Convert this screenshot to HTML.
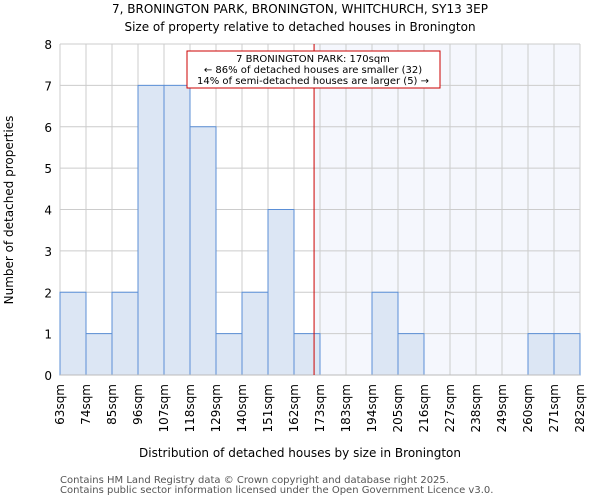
<!DOCTYPE html>
<html><head><meta charset="utf-8"><style>
body{margin:0;background:#fff;font-family:"DejaVu Sans","Liberation Sans",sans-serif;}
</style></head><body>
<svg id="chart" width="600" height="500" viewBox="0 0 600 500" font-family="DejaVu Sans, Liberation Sans, sans-serif">
<text x="300" y="13" text-anchor="middle" font-size="12">7, BRONINGTON PARK, BRONINGTON, WHITCHURCH, SY13 3EP</text>
<text x="300" y="31" text-anchor="middle" font-size="12">Size of property relative to detached houses in Bronington</text>
<g id="plot"></g>
<text x="300" y="457" text-anchor="middle" font-size="12">Distribution of detached houses by size in Bronington</text>
<text transform="translate(13,210) rotate(-90)" text-anchor="middle" font-size="12">Number of detached properties</text>
<text x="60" y="483" font-size="10" fill="#555">Contains HM Land Registry data © Crown copyright and database right 2025.</text>
<text x="60" y="493" font-size="10" fill="#555">Contains public sector information licensed under the Open Government Licence v3.0.</text>
</svg>
<script>
const labels=["63sqm","74sqm","85sqm","96sqm","107sqm","118sqm","129sqm","140sqm","151sqm","162sqm","173sqm","183sqm","194sqm","205sqm","216sqm","227sqm","238sqm","249sqm","260sqm","271sqm","282sqm"];
const counts=[2,1,2,7,7,6,1,2,4,1,0,0,2,1,0,0,0,0,1,1];
const yTicks=[0,1,2,3,4,5,6,7,8];
const subjectSize=170;
const sizeRange=[63,282];
const L=60,R=580,T=44,B=375,ymax=8;
const bw=(R-L)/counts.length;
const y=v=>B-(B-T)*v/ymax;
const xi=i=>L+i*bw;
const xv=v=>L+(R-L)*(v-sizeRange[0])/(sizeRange[1]-sizeRange[0]);
const NS="http://www.w3.org/2000/svg";
const g=document.getElementById('plot');
function mk(t,a){const e=document.createElementNS(NS,t);for(const k in a)e.setAttribute(k,a[k]);g.appendChild(e);return e;}
const lx=xv(subjectSize);
let sh=mk('rect',{x:lx,y:T,width:R-lx,height:B-T,fill:'#f5f7fd'});


yTicks.forEach(v=>{let l=mk('line',{x1:L,x2:R,y1:y(v),y2:y(v),stroke:'#ccc'});


let t=mk('text',{x:L-8,y:y(v)+5,'text-anchor':'end','font-size':12});t.textContent=v;

});
labels.forEach((s,i)=>{let l=mk('line',{x1:xi(i),x2:xi(i),y1:T,y2:B,stroke:'#ccc'});


let t=mk('text',{transform:`translate(${xi(i)+4},${B+9}) rotate(-90)`,'text-anchor':'end','font-size':12});t.textContent=s;

});
counts.forEach((c,i)=>{if(!c)return;let r=mk('rect',{x:xi(i),y:y(c),width:bw,height:B-y(c),fill:'#dce6f4',stroke:'#5b8fd6','stroke-width':1});

});
let ax=mk('line',{x1:L,x2:R,y1:B,y2:B,stroke:'#bbb'});


let rl=mk('line',{x1:lx,x2:lx,y1:T,y2:B,stroke:'#cc0000','stroke-width':1});


let box=mk('rect',{x:187,y:51,width:253,height:37,fill:'#fff',stroke:'#cc0000'});


["7 BRONINGTON PARK: 170sqm","← 86% of detached houses are smaller (32)","14% of semi-detached houses are larger (5) →"].forEach((s,i)=>{let t=mk('text',{x:313,y:62+i*11,'text-anchor':'middle','font-size':10,'textLength':i==0?null:null});t.removeAttribute('textLength');t.textContent=s;

});
</script>
</body></html>
